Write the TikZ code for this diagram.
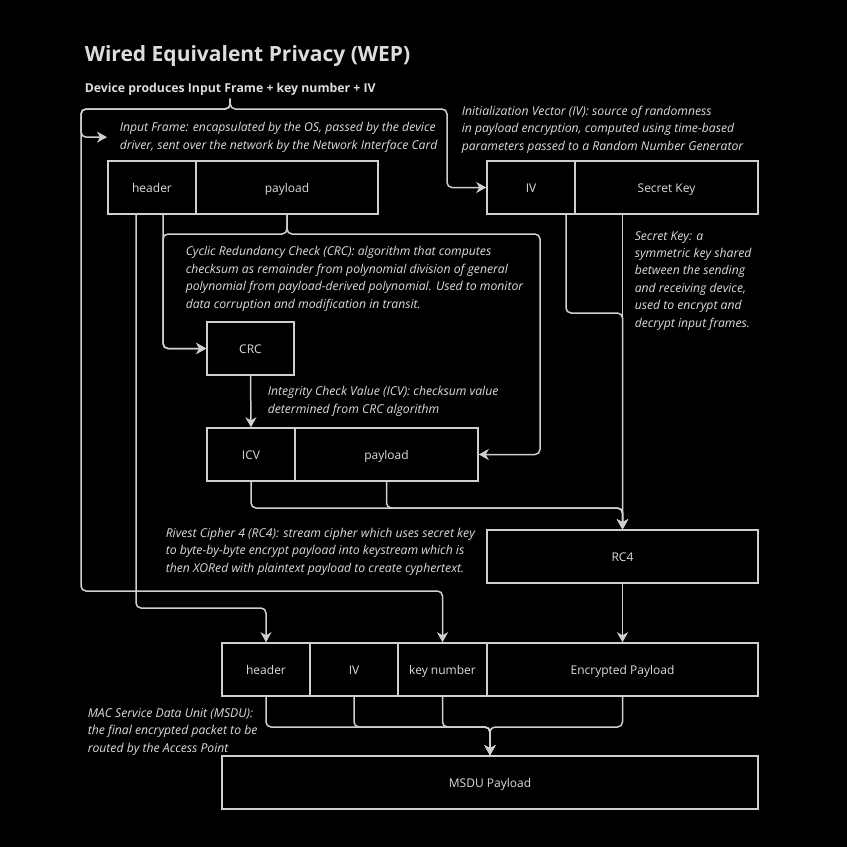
\documentclass[tikz,border=0pt]{standalone}
\usepackage{fontspec}
\setmainfont{Open Sans}
\usetikzlibrary{arrows.meta}
\definecolor{fg}{HTML}{DDDDDD}
\definecolor{ln}{HTML}{CFCFCF}
\begin{document}
\begin{tikzpicture}[x=1pt, y=-1pt, line width=1.5pt,
    field/.style={draw=ln, text=fg, minimum height=53pt, inner sep=0pt, text height=10.5pt, text depth=0pt, font=\fontsize{12}{14}\selectfont},
    note/.style={text=fg, anchor=base west, align=left, inner sep=0pt, font=\fontsize{12.2}{17.4}\selectfont\itshape},
    link/.style={draw=ln, rounded corners=5pt, -{Stealth[length=10pt, width=11pt, inset=3pt]}}]
      \fill [black] (0,0) rectangle (847,847);
      \useasboundingbox (0,0) rectangle (847,847);
      \node [text=fg, anchor=base west, inner sep=0pt, font=\fontsize{21}{25}\selectfont\bfseries] (title) at (84,61) {Wired Equivalent Privacy (WEP)};
      \node [text=fg, anchor=base west, inner sep=0pt, font=\fontsize{12.3}{14}\selectfont\bfseries] (sub) at (84,92) {Device produces Input Frame + key number + IV};
      \node [field, minimum width=88pt] (hdrA) at (152,187.5) {header};
      \node [field, minimum width=182pt] (payA) at (287,187.5) {payload};
      \node [field, minimum width=88pt] (ivA) at (531,187.5) {IV};
      \node [field, minimum width=183pt] (keyA) at (666.5,187.5) {Secret Key};
      \node [field, minimum width=87pt] (crc) at (250.5,348.5) {CRC};
      \node [field, minimum width=88pt] (icv) at (251,454.5) {ICV};
      \node [field, minimum width=183pt] (payB) at (386.5,454.5) {payload};
      \node [field, minimum width=271pt] (rc4) at (622.5,556.5) {RC4};
      \node [field, minimum width=88pt] (hdrB) at (266,669.5) {header};
      \node [field, minimum width=88pt] (ivB) at (354,669.5) {IV};
      \node [field, minimum width=89pt] (knB) at (442.5,669.5) {key number};
      \node [field, minimum width=271pt] (epB) at (622.5,669.5) {Encrypted Payload};
      \node [field, minimum width=536pt] (msdu) at (490,782.5) {MSDU Payload};
      \node [note] (frameNote) at (119,149) {Input Frame: encapsulated by the OS, passed by the device\\driver, sent over the network by the Network Interface Card};
      \node [note] (ivNote) at (461,150) {Initialization Vector (IV): source of randomness\\in payload encryption, computed using time-based\\parameters passed to a Random Number Generator};
      \node [note] (crcNote) at (185,308) {Cyclic Redundancy Check (CRC): algorithm that computes\\checksum as remainder from polynomial division of general\\polynomial from payload-derived polynomial. Used to monitor\\data corruption and modification in transit.};
      \node [note] (icvNote) at (267,413) {Integrity Check Value (ICV): checksum value\\determined from CRC algorithm};
      \node [note] (keyNote) at (634,327) {Secret Key: a\\symmetric key shared\\between the sending\\and receiving device,\\used to encrypt and\\decrypt input frames.};
      \node [note] (rc4Note) at (165,572) {Rivest Cipher 4 (RC4): stream cipher which uses secret key\\to byte-by-byte encrypt payload into keystream which is\\then XORed with plaintext payload to create cyphertext.};
      \node [note] (msduNote) at (87,752) {MAC Service Data Unit (MSDU):\\the final encrypted packet to be\\routed by the Access Point};
      \draw [link] ([yshift=-3pt]sub.south) |- (81,109) |- ([xshift=-12pt]frameNote.west);
      \draw [link] ([yshift=-3pt]sub.south) |- (81,109) |- (knB.north |- 0,591) -- (knB.north);
      \draw [link] ([yshift=-3pt]sub.south) |- (447,109) |- (ivA.west);
      \draw [link] ([xshift=-16pt]hdrA.south) |- (hdrB.north |- 0,608) -- (hdrB.north);
      \draw [link] ([xshift=11pt]hdrA.south) |- (crc.west);
      \draw [link] (payA.south) |- ([xshift=11pt]hdrA.south |- 0,234) |- (crc.west);
      \draw [link] (payA.south) |- (540,234) |- (payB.east);
      \draw [link] (crc.south) -- (icv.north);
      \draw [link] (icv.south) |- (rc4.north |- 0,508) -- (rc4.north);
      \draw [link] (payB.south) |- (rc4.north |- 0,508) -- (rc4.north);
      \draw [link] ([xshift=35pt]ivA.south) |- (rc4.north |- 0,313) -- (rc4.north);
      \draw [link] (keyA.south -| rc4.north) -- (rc4.north);
      \draw [link] (rc4.south) -- (epB.north);
      \foreach \part in {hdrB, ivB, knB, epB}
        \draw [link] (\part.south) |- (msdu.north |- 0,727) -- (msdu.north);
    \end{tikzpicture}
\end{document}
